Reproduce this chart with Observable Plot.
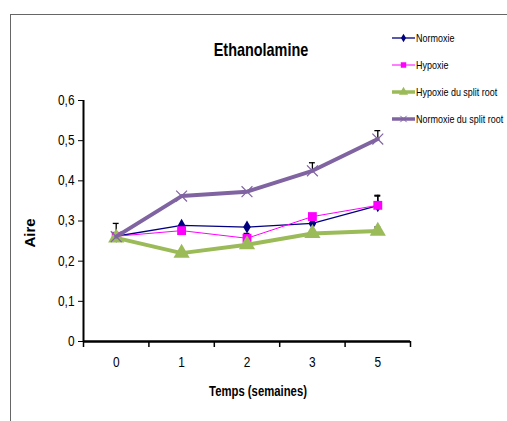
<!DOCTYPE html>
<html><head><meta charset="utf-8">
<script src="https://cdn.jsdelivr.net/npm/d3@7"></script>
<script src="https://cdn.jsdelivr.net/npm/@observablehq/plot@0.6"></script>
<style>
html,body{margin:0;padding:0;background:#fff;}
#wrap{position:relative;width:507px;height:421px;overflow:hidden;font-family:"Liberation Sans",Arial,sans-serif;}
#bt{position:absolute;left:10px;top:14px;width:497px;height:1px;background:#666;}
#bl{position:absolute;left:10px;top:14px;width:1px;height:407px;background:#666;}
#chart{position:absolute;left:0;top:0;}
#legend{position:absolute;left:392px;top:24px;font-size:11.5px;color:#000;}
.li{display:flex;align-items:center;height:27px;white-space:nowrap;}
.li svg{margin-right:1px;flex:none;}
.li span{display:inline-block;transform:scaleX(0.78);transform-origin:left center;}
</style>
</head><body>
<div id="wrap"><div id="chart"></div><div id="bt"></div><div id="bl"></div><div id="legend"></div></div>
<script>
const categories = ["0", "1", "2", "3", "5"];
const seriesNames = ["Normoxie", "Hypoxie", "Hypoxie du split root", "Normoxie du split root"];
const normoxie = [0.262, 0.289, 0.285, 0.294, 0.338];
const hypoxie = [0.262, 0.276, 0.257, 0.311, 0.339];
const hypoxieSplit = [0.258, 0.220, 0.241, 0.269, 0.275];
const normoxieSplit = [0.261, 0.362, 0.373, 0.425, 0.504];
const normoxieErr = [0.032, 0, 0, 0, 0.024];
const hypoxieErr = [0, 0, 0.012, 0, 0.025];
const hypoxieSplitErr = [0, 0, 0, 0, 0.01];
const normoxieSplitErr = [0, 0, 0, 0.02, 0.021];
const yTicks = [0, 0.1, 0.2, 0.3, 0.4, 0.5, 0.6];
const title = "Ethanolamine";
const xTitle = "Temps (semaines)";
const yTitle = "Aire";

const colors = ["#000080", "#FF00FF", "#9BBB59", "#8064A2"];
const widths = [1.3, 1, 4, 4];
const symbols = ["diamond", "square", "triangle", "times"];
const rs = [4, 5, 6, 5];
const values = [normoxie, hypoxie, hypoxieSplit, normoxieSplit];
const errs = [normoxieErr, hypoxieErr, hypoxieSplitErr, normoxieSplitErr];

const rows = [];
values.forEach((vals, s) => vals.forEach((v, i) => rows.push({s, name: seriesNames[s], i, v, e: errs[s][i]})));
const errRows = rows.filter(d => d.e > 0);

const font = '"Liberation Sans",Arial,sans-serif';
const fmt = d => d === 0 ? "0" : d.toFixed(1).replace(".", ",");

const marks = [
  Plot.axisY({ticks: yTicks, tickSize: 5, tickPadding: 4, tickFormat: fmt, fontSize: 14, label: null, stroke: "#000", fill: "#000", fontFamily: font, className: "narrow85"}),
  Plot.axisX({ticks: d3.range(categories.length + 1).map(k => k - 0.5), tickSize: 6, tickFormat: () => "", label: null, stroke: "#000", strokeWidth: 1.5}),
  Plot.axisX({ticks: d3.range(categories.length), tickSize: 0, tickPadding: 16, tickFormat: k => categories[k], fontSize: 14, label: null, fill: "#000", fontFamily: font, className: "narrow85"}),
  Plot.ruleX([-0.5], {stroke: "#000", strokeWidth: 2}),
  Plot.ruleY([0], {stroke: "#000", strokeWidth: 2.5}),
  Plot.ruleX(errRows, {x: "i", y1: "v", y2: d => d.v + d.e, stroke: "#000", strokeWidth: 1.3}),
  Plot.ruleY(errRows, {x1: d => d.i - 0.045, x2: d => d.i + 0.045, y: d => d.v + d.e, stroke: "#000", strokeWidth: 1.3})
];
values.forEach((vals, s) => {
  const data = rows.filter(d => d.s === s);
  marks.push(Plot.line(data, {x: "i", y: "v", stroke: colors[s], strokeWidth: widths[s]}));
  if (symbols[s] === "times")
    marks.push(Plot.dot(data, {x: "i", y: "v", symbol: "times", r: rs[s], stroke: colors[s], strokeWidth: 1.2}));
  else
    marks.push(Plot.dot(data, {x: "i", y: "v", symbol: symbols[s], r: rs[s], fill: colors[s], stroke: "none"}));
});
marks.push(
  Plot.text([title], {frameAnchor: "top", dy: -58, dx: 14, text: d => d, fontSize: 18.5, fontWeight: "bold", fill: "#000", fontFamily: font, className: "narrow78"}),
  Plot.text([xTitle], {frameAnchor: "bottom", dy: 54, dx: 11, text: d => d, fontSize: 14.5, fontWeight: "bold", fill: "#000", fontFamily: font, className: "narrow78"}),
  Plot.text([yTitle], {frameAnchor: "left", dx: -53, dy: 12, rotate: -90, textAnchor: "middle", text: d => d, fontSize: 15, fontWeight: "bold", fill: "#000", fontFamily: font, letterSpacing: "1.5px"})
);

const chart = Plot.plot({
  width: 507, height: 421,
  marginLeft: 83, marginRight: 97, marginTop: 100, marginBottom: 80,
  x: {type: "linear", domain: [-0.5, categories.length - 0.5], axis: null},
  y: {domain: [0, 0.6], axis: null},
  style: {background: "transparent", overflow: "visible"},
  marks
});
document.getElementById("chart").appendChild(chart);

// condense texts horizontally (narrow font look) around their anchor
function condense(cls, s) {
  chart.querySelectorAll("g." + cls + " text, g[aria-label] ." + cls + " text").forEach(() => {});
  chart.querySelectorAll("." + cls).forEach(g => {
    g.querySelectorAll("text").forEach(t => {
      const b = t.getBBox();
      const anchor = getComputedStyle(t).textAnchor;
      const ax = anchor === "middle" ? b.x + b.width / 2 : anchor === "end" ? b.x + b.width : b.x;
      const tr = t.getAttribute("transform") || "";
      t.setAttribute("transform", `${tr} translate(${ax},0) scale(${s},1) translate(${-ax},0)`);
    });
  });
}
condense("narrow85", 0.85);
condense("narrow78", 0.78);

const leg = document.getElementById("legend");
seriesNames.forEach((name, s) => {
  const row = document.createElement("div");
  row.className = "li";
  const ns = "http://www.w3.org/2000/svg";
  const svg = document.createElementNS(ns, "svg");
  svg.setAttribute("width", 23); svg.setAttribute("height", 12);
  const ln = document.createElementNS(ns, "line");
  ln.setAttribute("x1", 0); ln.setAttribute("x2", 23); ln.setAttribute("y1", 6); ln.setAttribute("y2", 6);
  ln.setAttribute("stroke", colors[s]); ln.setAttribute("stroke-width", Math.min(widths[s], 3.5));
  svg.appendChild(ln);
  const sym = d3.symbol().type({diamond: d3.symbolDiamond, square: d3.symbolSquare, triangle: d3.symbolTriangle, times: d3.symbolX}[symbols[s]]).size([22, 30, 36, 28][s]);
  const p = document.createElementNS(ns, "path");
  p.setAttribute("d", sym()); p.setAttribute("transform", "translate(11.5,6)");
  if (symbols[s] === "times") { p.setAttribute("stroke", colors[s]); p.setAttribute("fill", "none"); }
  else p.setAttribute("fill", colors[s]);
  svg.appendChild(p);
  row.appendChild(svg);
  const t = document.createElement("span"); t.textContent = name;
  row.appendChild(t);
  leg.appendChild(row);
});
</script>
</body></html>
